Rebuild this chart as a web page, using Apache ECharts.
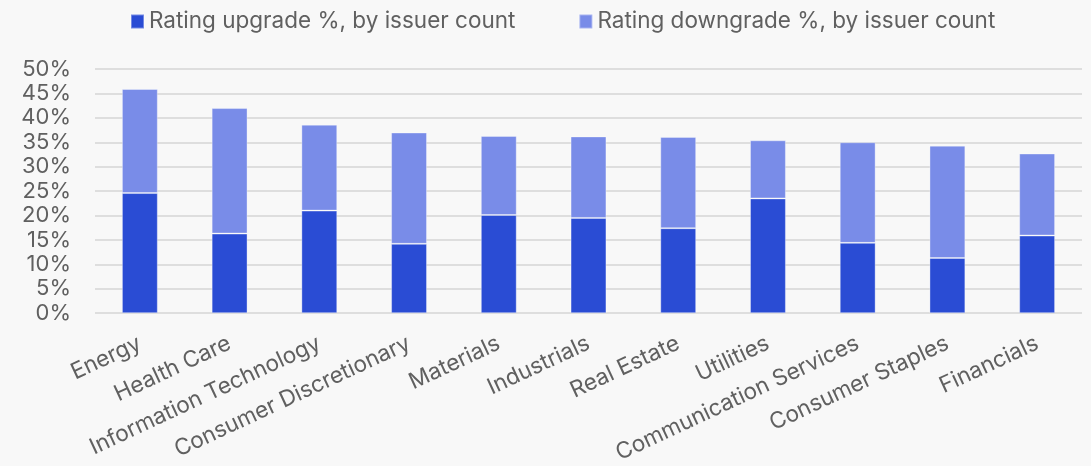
<!DOCTYPE html>
<html>
<head>
<meta charset="utf-8">
<script src="https://cdn.jsdelivr.net/npm/echarts@6/dist/echarts.min.js"></script>
<style>
  html, body { margin: 0; padding: 0; background: #f8f8f8; }
  #chart { width: 1091px; height: 466px; }
</style>
</head>
<body>
<div id="chart"></div>
<script>
// sectors, in the order shown
const sectors = ['Energy', 'Health Care', 'Information Technology', 'Consumer Discretionary',
  'Materials', 'Industrials', 'Real Estate', 'Utilities', 'Communication Services',
  'Consumer Staples', 'Financials'];
// upgrade share, %
const upgradePct = [24.6, 16.3, 21.0, 14.2, 20.1, 19.5, 17.4, 23.5, 14.4, 11.3, 15.9];
// downgrade share, %
const downgradePct = [21.3, 25.7, 17.6, 22.8, 16.2, 16.7, 18.7, 11.9, 20.6, 23.0, 16.8];

const font = 'Inter, "Noto Sans", sans-serif';
const txt = '#606060';

const chart = echarts.init(document.getElementById('chart'));
chart.setOption({
  backgroundColor: '#f8f8f8',
  animation: false,
  textStyle: { fontFamily: font },
  legend: {
    left: 125, top: 5,
    itemWidth: 13, itemHeight: 14, itemGap: 63,
    icon: 'rect',
    textStyle: { color: txt, fontSize: 22.5, fontFamily: font },
    data: ['Rating upgrade %, by issuer count', 'Rating downgrade %, by issuer count']
  },
  grid: { left: 95, right: 9, top: 69, bottom: 152 },
  xAxis: {
    type: 'category',
    data: sectors,
    axisLine: { show: false },
    axisTick: { show: false },
    axisLabel: { rotate: 25, margin: 29, color: txt, fontSize: 22.5, fontFamily: font, interval: 0 }
  },
  yAxis: {
    type: 'value', min: 0, max: 50, interval: 5,
    axisLabel: { formatter: '{value}%', color: txt, fontSize: 22, margin: 24, fontFamily: font },
    splitLine: { lineStyle: { color: '#d6d6d6', width: 1.5 } }
  },
  series: [
    {
      name: 'Rating upgrade %, by issuer count',
      type: 'bar', stack: 'r', barWidth: '40%',
      itemStyle: { color: '#2a4cd4', borderColor: 'rgba(255,255,255,0.35)', borderWidth: 1 },
      data: upgradePct
    },
    {
      name: 'Rating downgrade %, by issuer count',
      type: 'bar', stack: 'r', barWidth: '40%',
      itemStyle: { color: '#798ce8', borderColor: 'rgba(255,255,255,0.35)', borderWidth: 1 },
      data: downgradePct
    }
  ]
});
</script>
</body>
</html>
